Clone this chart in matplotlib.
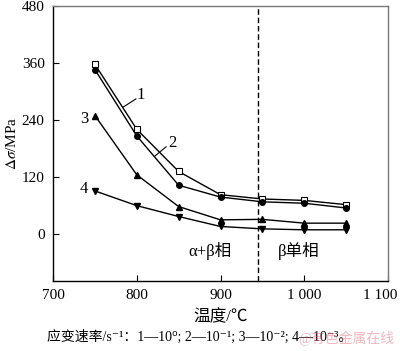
import matplotlib
matplotlib.use("Agg")
import matplotlib.pyplot as plt
from matplotlib.transforms import ScaledTranslation

plt.rcParams['font.family'] = ['Liberation Serif', 'Noto Sans CJK SC', 'DejaVu Sans']
plt.rcParams['mathtext.fontset'] = 'stix'

temps = [750, 800, 850, 900, 950, 1000, 1050]
s1 = [357, 220, 131, 82, 73, 70, 61]
s2 = [346, 206, 102, 77, 67, 64, 54]
s3 = [249, 124, 57, 29, 30, 22, 22]
s4 = [90, 59, 36, 15, 10, 8, 8]
xticks = [700, 800, 900, 1000, 1100]
xticklabels = ['700', '800', '900', '1 000', '1 100']
yticks = [0, 120, 240, 360, 480]
phase_boundary = 945

fig = plt.figure(figsize=(4.0, 3.51), dpi=100)
ax = fig.add_axes([0.1325, 0.1994, 0.8375, 0.7836])

ax.plot(temps, s1, '-', color='black', lw=1.0, marker='s', ms=4, mfc='white', mec='black', mew=0.8)
ax.plot(temps, s2, '-', color='black', lw=1.0, marker='o', ms=4, mfc='black', mec='black')
ax.plot(temps, s3, '-', color='black', lw=1.0, marker='^', ms=4, mfc='black', mec='black')
ax.plot(temps, s4, '-', color='black', lw=1.0, marker='v', ms=4, mfc='black', mec='black')

ax.axvline(phase_boundary, color='black', lw=1.0, ls=(0, (4, 2)))

ax.set_xlim(700, 1100)
ax.set_ylim(-100, 480)
ax.set_xticks(xticks)
ax.set_xticklabels(xticklabels)
ax.set_yticks(yticks)
ax.tick_params(direction='in', length=4, width=0.8, labelsize=11, pad=6, top=False, right=False)
lbl = ax.get_xticklabels()[-1]
lbl.set_transform(lbl.get_transform() + ScaledTranslation(-8 / 100, 0, fig.dpi_scale_trans))
for side in ['top', 'right']:
    ax.spines[side].set_color('#777777')
for side in ['left', 'bottom']:
    ax.spines[side].set_color('black')
for sp in ax.spines.values():
    sp.set_linewidth(1.0)

# curve labels with leader lines
ax.text(805, 292, '1', fontsize=12, ha='center', va='center')
ax.plot([784, 799], [267, 284], color='black', lw=0.8)
ax.text(842, 191, '2', fontsize=12, ha='center', va='center')
ax.plot([822, 835], [164, 183], color='black', lw=0.8)
ax.text(737, 241, '3', fontsize=12, ha='center', va='center')
ax.text(737, 94, '4', fontsize=12, ha='center', va='center')

ax.text(888, -36, 'α+β相', fontsize=12, ha='center', va='center')
ax.text(994, -36, 'β单相', fontsize=12, ha='center', va='center')

ax.set_ylabel(r'$\Delta\sigma$/MPa', fontsize=11, labelpad=2)
ax.set_xlabel('温度/℃', fontsize=12, labelpad=5)

fig.text(0.118, 0.04, '应变速率/s⁻¹：1—10⁰; 2—10⁻¹; 3—10⁻²; 4—10⁻³。',
         fontsize=10, ha='left', va='center')
fig.text(0.985, 0.035, '@有色金属在线', fontsize=10, ha='right', va='center',
         color='#e06070', alpha=0.45)

fig.savefig('out.png', dpi=100)
